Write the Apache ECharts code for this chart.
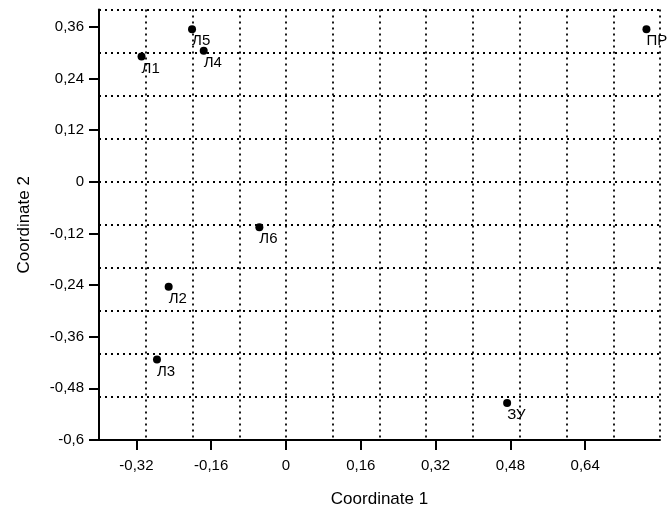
<!DOCTYPE html>
<html>
<head>
<meta charset="utf-8">
<script src="https://cdn.jsdelivr.net/npm/echarts@6/dist/echarts.min.js"></script>
<style>html,body{margin:0;padding:0;background:#fff}#c{width:672px;height:510px}</style>
</head>
<body>
<div id="c"></div>
<script>
const names = ['Л1','Л2','Л3','Л4','Л5','Л6','ЗУ','ПР'];
const coord1 = [-0.309, -0.251, -0.276, -0.176, -0.201, -0.057, 0.473, 0.771];
const coord2 = [0.291, -0.244, -0.413, 0.304, 0.354, -0.106, -0.514, 0.354];
const xTicks = [-0.32, -0.16, 0, 0.16, 0.32, 0.48, 0.64];
const yTicks = [-0.6, -0.48, -0.36, -0.24, -0.12, 0, 0.12, 0.24, 0.36];
const xRange = [-0.4, 0.8];
const yRange = [-0.6, 0.4];
const gridStep = 0.1;

const FONT = '"Liberation Sans", Arial, sans-serif';
const fmt = v => (Math.abs(v) < 1e-9 ? '0' : String(+v.toFixed(2)).replace('.', ','));
const gridLine = {show: true, lineStyle: {color: '#000', width: 1.8, type: [2, 4]}};

const chart = echarts.init(document.getElementById('c'), null, {renderer: 'canvas'});
chart.setOption({
  backgroundColor: '#fff',
  animation: false,
  grid: {left: 99, right: 12, top: 9.5, bottom: 70, containLabel: false, outerBoundsMode: 'none'},
  xAxis: [
    {
      type: 'value', min: xRange[0], max: xRange[1], position: 'bottom',
      name: 'Coordinate 1', nameLocation: 'middle', nameGap: 51,
      nameTextStyle: {fontFamily: FONT, fontSize: 17, color: '#000'},
      axisLine: {show: true, onZero: false, lineStyle: {color: '#000', width: 2}},
      axisTick: {show: true, length: 10, lineStyle: {color: '#000', width: 2}, customValues: xTicks},
      axisLabel: {customValues: xTicks, formatter: fmt, margin: 18, fontFamily: FONT, fontSize: 15, color: '#000'},
      splitLine: {show: false}
    },
    {
      type: 'value', min: xRange[0], max: xRange[1], interval: gridStep, position: 'top',
      axisLine: {show: false}, axisTick: {show: false}, axisLabel: {show: false},
      splitLine: gridLine
    }
  ],
  yAxis: [
    {
      type: 'value', min: yRange[0], max: yRange[1], position: 'left',
      name: 'Coordinate 2', nameLocation: 'middle', nameGap: 66, nameRotate: 90,
      nameTextStyle: {fontFamily: FONT, fontSize: 17, color: '#000'},
      axisLine: {show: true, onZero: false, lineStyle: {color: '#000', width: 2}},
      axisTick: {show: true, length: 10, lineStyle: {color: '#000', width: 2}, customValues: yTicks},
      axisLabel: {customValues: yTicks, formatter: fmt, margin: 15, fontFamily: FONT, fontSize: 15, color: '#000'},
      splitLine: {show: false}
    },
    {
      type: 'value', min: yRange[0], max: yRange[1], interval: gridStep, position: 'right',
      axisLine: {show: false}, axisTick: {show: false}, axisLabel: {show: false},
      splitLine: gridLine
    }
  ],
  series: [{
    type: 'scatter',
    xAxisIndex: 0, yAxisIndex: 0,
    symbol: 'circle', symbolSize: 8,
    itemStyle: {color: '#000', opacity: 1},
    label: {
      show: true, position: 'right', distance: 0, offset: [-4, 12],
      formatter: p => p.name, fontFamily: FONT, fontSize: 15, color: '#000'
    },
    emphasis: {disabled: true},
    data: names.map((n, i) => ({name: n, value: [coord1[i], coord2[i]]}))
  }]
});
</script>
</body>
</html>
